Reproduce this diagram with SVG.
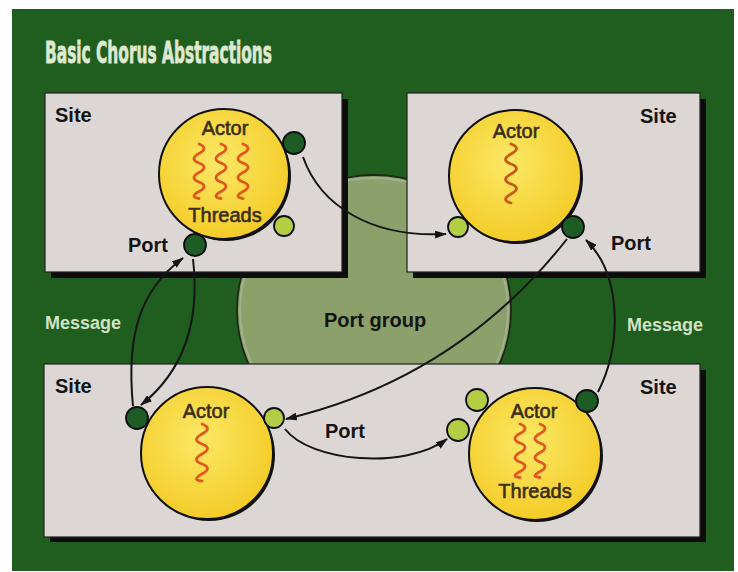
<svg xmlns="http://www.w3.org/2000/svg" width="738" height="572" viewBox="0 0 738 572">
<defs>
<style>
.site{fill:#dcd7d5;stroke:#222;stroke-width:1.2}
.shadow{fill:#0c0c0c}
.actor{fill:url(#yel);stroke:#111;stroke-width:2}
.ashadow{fill:#111}
.pdark{fill:#1e5c26;stroke:#0d0d0d;stroke-width:1.8}
.plight{fill:#b3cd45;stroke:#0d0d0d;stroke-width:1.8}
.thread{fill:none;stroke:#e0581f;stroke-width:2.8;stroke-linecap:round}
.lbl{font-family:"Liberation Sans",Arial,sans-serif;font-weight:bold;font-size:20px;fill:#141414}
.msg{font-family:"Liberation Sans",Arial,sans-serif;font-weight:bold;font-size:18px;fill:#d2e2c4}
.atxt{font-family:"Liberation Sans",Arial,sans-serif;font-size:20px;fill:#3a2e14;text-anchor:middle;stroke:#3a2e14;stroke-width:0.6}
.conn{fill:none;stroke:#151515;stroke-width:2}
</style>
<radialGradient id="yel" cx="45%" cy="40%" r="60%">
<stop offset="0" stop-color="#fce866"/>
<stop offset="1" stop-color="#f4cc28"/>
</radialGradient>
<marker id="ah" markerUnits="userSpaceOnUse" markerWidth="12" markerHeight="8" refX="11" refY="4" orient="auto">
<path d="M0,0 L12,4 L0,8 z" fill="#151515"/>
</marker>
</defs>
<rect x="0" y="0" width="738" height="572" fill="#ffffff"/>
<rect x="12" y="9" width="722" height="562" fill="#205e1f"/>
<text x="45" y="63" font-family="DejaVu Sans Condensed, DejaVu Sans, sans-serif" font-weight="bold" font-size="31" fill="#dfe9cf" stroke="#dfe9cf" stroke-width="0.8" textLength="227" lengthAdjust="spacingAndGlyphs">Basic Chorus Abstractions</text>

<g id="port-group">
<ellipse cx="374" cy="310" rx="137" ry="135" fill="#8ba06a" stroke="#1a2a16" stroke-width="1.8"/>
<ellipse cx="374" cy="310" rx="134" ry="132" fill="none" stroke="#aeb89c" stroke-width="2" opacity="0.7"/>
<text x="375" y="327" class="lbl" text-anchor="middle" fill="#1e1e18">Port group</text>
</g>

<g id="site-top-left">
<rect x="51" y="99" width="297" height="179" class="shadow"/>
<rect x="45" y="93" width="297" height="179" class="site"/>
<text x="55" y="122" class="lbl">Site</text>
</g>
<g id="site-top-right">
<rect x="413" y="99" width="293" height="179" class="shadow"/>
<rect x="407" y="93" width="293" height="179" class="site"/>
<text x="640" y="123" class="lbl">Site</text>
</g>
<g id="site-bottom">
<rect x="50" y="370" width="656" height="172" class="shadow"/>
<rect x="44" y="364" width="656" height="173" class="site"/>
<text x="55" y="393" class="lbl">Site</text>
<text x="640" y="394" class="lbl">Site</text>
</g>

<g id="actor-top-left">
<circle cx="226" cy="176" r="65" class="ashadow"/>
<circle cx="224" cy="174" r="65" class="actor"/>
<text x="225" y="135" class="atxt">Actor</text>
<path class="thread" d="M199,144 q10,4 0,9.5 t0,9.5 t0,9.5 t0,9.5 t0,9.5 t0,7"/>
<path class="thread" d="M221,144 q10,4 0,9.5 t0,9.5 t0,9.5 t0,9.5 t0,9.5 t0,7"/>
<path class="thread" d="M243,144 q10,4 0,9.5 t0,9.5 t0,9.5 t0,9.5 t0,9.5 t0,7"/>
<text x="225" y="222" class="atxt">Threads</text>
</g>
<g id="actor-top-right">
<circle cx="517" cy="178" r="66" class="ashadow"/>
<circle cx="515" cy="176" r="66" class="actor"/>
<text x="516" y="138" class="atxt">Actor</text>
<path class="thread" style="stroke:#c65a18" d="M511,144 q11,4 0,10 t0,10 t0,10 t0,10 t0,10 t0,9"/>
</g>
<g id="actor-bottom-left">
<circle cx="209" cy="455" r="66" class="ashadow"/>
<circle cx="207" cy="453" r="66" class="actor"/>
<text x="206" y="418" class="atxt">Actor</text>
<path class="thread" d="M202,424 q11,4 0,10 t0,10 t0,10 t0,10 t0,10 t0,7"/>
</g>
<g id="actor-bottom-right">
<circle cx="537" cy="456" r="66" class="ashadow"/>
<circle cx="535" cy="454" r="66" class="actor"/>
<text x="534" y="418" class="atxt">Actor</text>
<path class="thread" d="M520,424 q10,4 0,9.5 t0,9.5 t0,9.5 t0,9.5 t0,9.5 t0,6"/>
<path class="thread" d="M540,424 q10,4 0,9.5 t0,9.5 t0,9.5 t0,9.5 t0,9.5 t0,6"/>
<text x="535" y="498" class="atxt">Threads</text>
</g>

<g id="ports">
<circle cx="294" cy="143" r="11" class="pdark"/>
<circle cx="284" cy="226" r="10" class="plight"/>
<circle cx="195" cy="245" r="11" class="pdark"/>
<circle cx="458" cy="227" r="10" class="plight"/>
<circle cx="573" cy="227" r="11" class="pdark"/>
<circle cx="137" cy="418" r="11" class="pdark"/>
<circle cx="274" cy="418" r="10" class="plight"/>
<circle cx="477" cy="400" r="11" class="plight"/>
<circle cx="458" cy="430" r="11" class="plight"/>
<circle cx="587" cy="401" r="11" class="pdark"/>
</g>

<g id="labels">
<text x="128" y="252" class="lbl">Port</text>
<text x="611" y="250" class="lbl">Port</text>
<text x="325" y="438" class="lbl">Port</text>
<text x="45" y="329" class="msg">Message</text>
<text x="627" y="331" class="msg">Message</text>
</g>

<g id="connectors">
<path class="conn" marker-end="url(#ah)" d="M303,157 C320,205 370,238 446,234"/>
<path class="conn" marker-end="url(#ah)" d="M567,239 C515,305 430,385 286,419"/>
<path class="conn" marker-end="url(#ah)" d="M285,429 C310,462 405,470 447,439"/>
<path class="conn" marker-end="url(#ah)" d="M598,392 C622,345 622,275 586,240"/>
<path class="conn" marker-end="url(#ah)" d="M133,406 C126,335 140,290 183,258"/>
<path class="conn" marker-end="url(#ah)" d="M193,259 C200,320 185,370 141,405"/>
</g>
</svg>
